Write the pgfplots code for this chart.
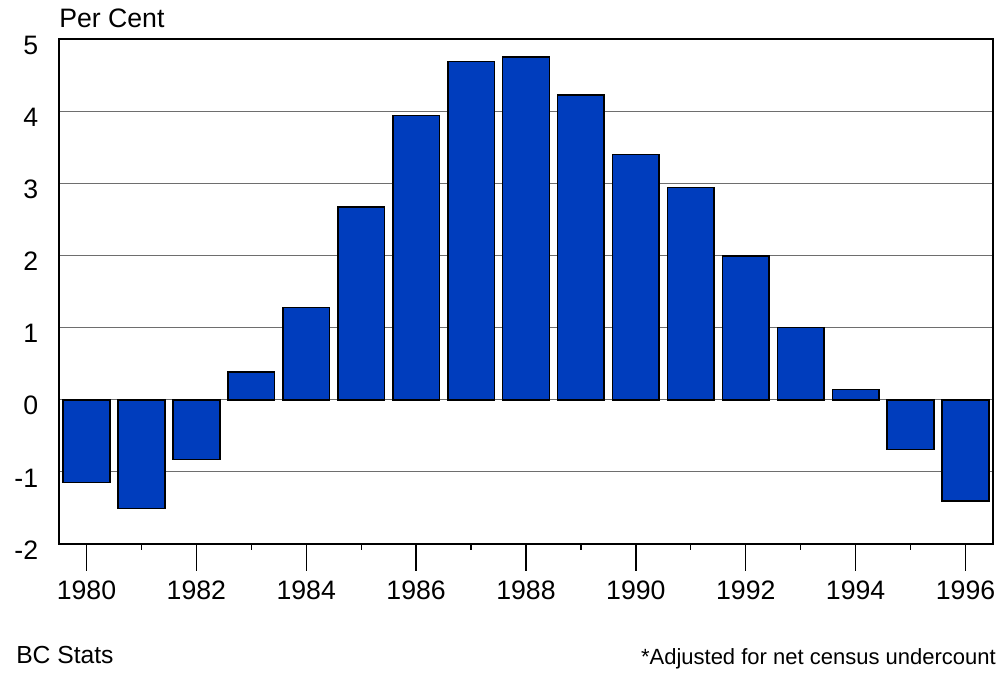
\documentclass[border=0pt]{standalone}
\usepackage{pgfplots}
\pgfplotsset{compat=1.18}
\usepackage{fontspec}
\setmainfont{Liberation Sans}
\definecolor{barblue}{RGB}{0,61,189}
\definecolor{gridgray}{RGB}{110,110,110}
\begin{document}
\begin{tikzpicture}
\useasboundingbox (0pt,0pt) rectangle (751.5pt,504.75pt);
\begin{axis}[
  at={(44.25pt,96.75pt)}, anchor=south west,
  scale only axis, width=700.5pt, height=378.75pt,
  xmin=1979.5, xmax=1996.5, ymin=-2, ymax=5,
  ytick={-2,-1,0,1,2,3,4,5},
  xtick={1980,1982,...,1996},
  extra x ticks={1981,1983,...,1995},
  extra x tick labels={},
  extra x tick style={tick align=outside, major tick length=4.5pt, grid=none},
  xtick pos=lower, ytick pos=left,
  xticklabel style={font=\fontsize{20}{24}\selectfont, inner sep=0pt, anchor=north, yshift=-7.5pt},
  yticklabel style={font=\fontsize{20}{24}\selectfont, inner sep=0pt, anchor=east, xshift=-5.5pt, yshift=-4.5pt},
  /pgf/number format/assume math mode=true,
  /pgf/number format/1000 sep={},
  tick align=center, major tick length=20pt,
  xtick style={black, line width=1pt},
  ytick style={draw=none},
  ymajorgrids, grid style={gridgray, line width=0.8pt},
  axis line style={black, line width=1.1pt},
  ybar, bar width=0.85,
  clip=false,
]
\addplot[fill=barblue, draw=black, line width=1.2pt] coordinates {
(1980,-1.15) (1981,-1.51) (1982,-0.83) (1983,0.38) (1984,1.28)
(1985,2.67) (1986,3.94) (1987,4.69) (1988,4.75) (1989,4.22)
(1990,3.40) (1991,2.94) (1992,1.99) (1993,1.00) (1994,0.14)
(1995,-0.69) (1996,-1.40)};
\end{axis}
\node[anchor=base west, inner sep=0pt, font=\fontsize{20}{24}\selectfont] at (44.25pt,483.75pt) {Per Cent};
\node[anchor=base west, inner sep=0pt, font=\fontsize{18.5}{22}\selectfont] at (12pt,6.75pt) {BC Stats};
\node[anchor=base east, inner sep=0pt, font=\fontsize{16.5}{20}\selectfont] at (747pt,6pt) {*Adjusted for net census undercount};
\end{tikzpicture}
\end{document}
